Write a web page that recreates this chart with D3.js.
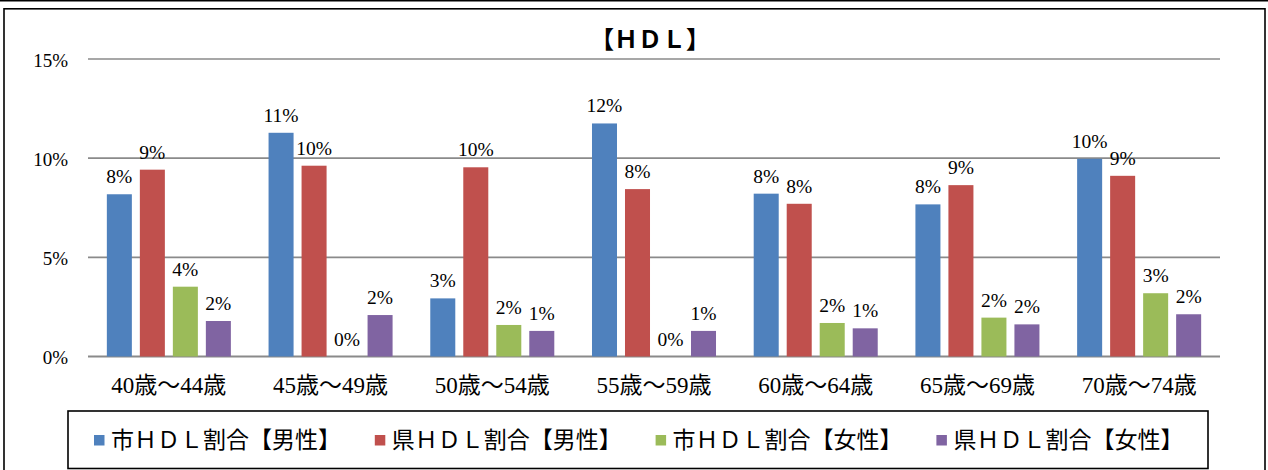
<!DOCTYPE html>
<html>
<head>
<meta charset="utf-8">
<script src="https://cdn.jsdelivr.net/npm/d3@7"></script>
<style>
  body { margin: 0; background: #fff; }
  text { font-family: "Liberation Serif", "Noto Sans CJK JP", serif; fill: #000; }
</style>
</head>
<body>
<svg id="chart"></svg>
<script>
// age groups and the four series (ratio values)
const ageGroups = ["40歳～44歳", "45歳～49歳", "50歳～54歳", "55歳～59歳", "60歳～64歳", "65歳～69歳", "70歳～74歳"];
const seriesNames = ["市ＨＤＬ割合【男性】", "県ＨＤＬ割合【男性】", "市ＨＤＬ割合【女性】", "県ＨＤＬ割合【女性】"];
const cityMale   = [0.0818, 0.1128, 0.0293, 0.1175, 0.0821, 0.0767, 0.0997];
const prefMale   = [0.0942, 0.0962, 0.0954, 0.0844, 0.0770, 0.0864, 0.0911];
const cityFemale = [0.0352, 0, 0.0159, 0, 0.0169, 0.0196, 0.0319];
const prefFemale = [0.0179, 0.0209, 0.0129, 0.0129, 0.0142, 0.0162, 0.0213];
const yTicks = [0, 0.05, 0.10, 0.15];
const colors = ["#4F81BD", "#C0504D", "#9BBB59", "#8064A2"];

const width = 1268, height = 470;
const plot = {left: 88, right: 1220, top: 59, bottom: 356.5};

const svg = d3.select("#chart")
    .attr("width", width)
    .attr("height", height);

// frame lines
svg.append("line")
    .attr("x1", 0).attr("x2", width)
    .attr("y1", 0.8).attr("y2", 0.8)
    .attr("stroke", "#000").attr("stroke-width", 1.6);
svg.append("rect")
    .attr("x", 4).attr("y", 8.8)
    .attr("width", 1261).attr("height", 470)
    .attr("fill", "none").attr("stroke", "#000").attr("stroke-width", 1.6);

// scales
const x0 = d3.scaleBand()
    .domain(ageGroups)
    .range([plot.left, plot.right]);

const x1 = d3.scaleBand()
    .domain(seriesNames)
    .range([0, x0.bandwidth()])
    .paddingInner(0.242)
    .paddingOuter(0.571);

const y = d3.scaleLinear()
    .domain([0, 0.15])
    .range([plot.bottom, plot.top]);

// gridlines
svg.append("g")
    .selectAll("line")
    .data(yTicks)
    .join("line")
    .attr("x1", plot.left).attr("x2", plot.right)
    .attr("y1", d => y(d)).attr("y2", d => y(d))
    .attr("stroke", "#8a8a8a")
    .attr("stroke-width", d => d === 0 ? 2 : 1.7);

// y tick labels
svg.append("g")
    .selectAll("text")
    .data(yTicks)
    .join("text")
    .attr("x", 68)
    .attr("y", d => y(d))
    .attr("dy", "0.4em")
    .attr("text-anchor", "end")
    .style("font-size", "19px")
    .text(d3.format(".0%"));

// x category labels
svg.append("g")
    .selectAll("text")
    .data(ageGroups)
    .join("text")
    .attr("x", d => x0(d) + x0.bandwidth() / 2)
    .attr("y", 393)
    .attr("text-anchor", "middle")
    .style("font-size", "23px")
    .text(d => d);

// bars
const allSeries = [cityMale, prefMale, cityFemale, prefFemale];
const barData = [];
ageGroups.forEach(function(g, i) {
    seriesNames.forEach(function(s, j) {
        barData.push({group: g, series: s, value: allSeries[j][i], color: colors[j]});
    });
});

const bars = svg.append("g");
bars.selectAll("rect")
    .data(barData.filter(d => d.value > 0))
    .join("rect")
    .attr("x", d => x0(d.group) + x1(d.series))
    .attr("y", d => y(d.value))
    .attr("width", x1.bandwidth())
    .attr("height", d => y(0) - y(d.value))
    .attr("fill", d => d.color);

// value labels
bars.selectAll("text")
    .data(barData)
    .join("text")
    .attr("x", d => x0(d.group) + x1(d.series) + x1.bandwidth() / 2)
    .attr("y", d => y(d.value) - 11)
    .attr("text-anchor", "middle")
    .style("font-size", "19.5px")
    .text(d => d3.format(".0%")(d.value));

// title
svg.append("text")
    .attr("x", 650)
    .attr("y", 48)
    .attr("text-anchor", "middle")
    .style("font-size", "24px")
    .style("font-weight", "bold")
    .text("【ＨＤＬ】");

// legend
svg.append("rect")
    .attr("x", 68).attr("y", 411)
    .attr("width", 1140).attr("height", 57.5)
    .attr("fill", "#fff").attr("stroke", "#000").attr("stroke-width", 1.6);

const legend = svg.append("g")
    .selectAll("g")
    .data(seriesNames)
    .join("g")
    .attr("transform", (d, i) => `translate(${94 + i * 280.8},440)`);

legend.append("rect")
    .attr("x", 0).attr("y", -5)
    .attr("width", 10.5).attr("height", 10.5)
    .attr("fill", (d, i) => colors[i]);

legend.append("text")
    .attr("x", 17)
    .attr("y", 0)
    .attr("dy", "0.36em")
    .style("font-size", "23px")
    .text(d => d);
</script>
</body>
</html>
